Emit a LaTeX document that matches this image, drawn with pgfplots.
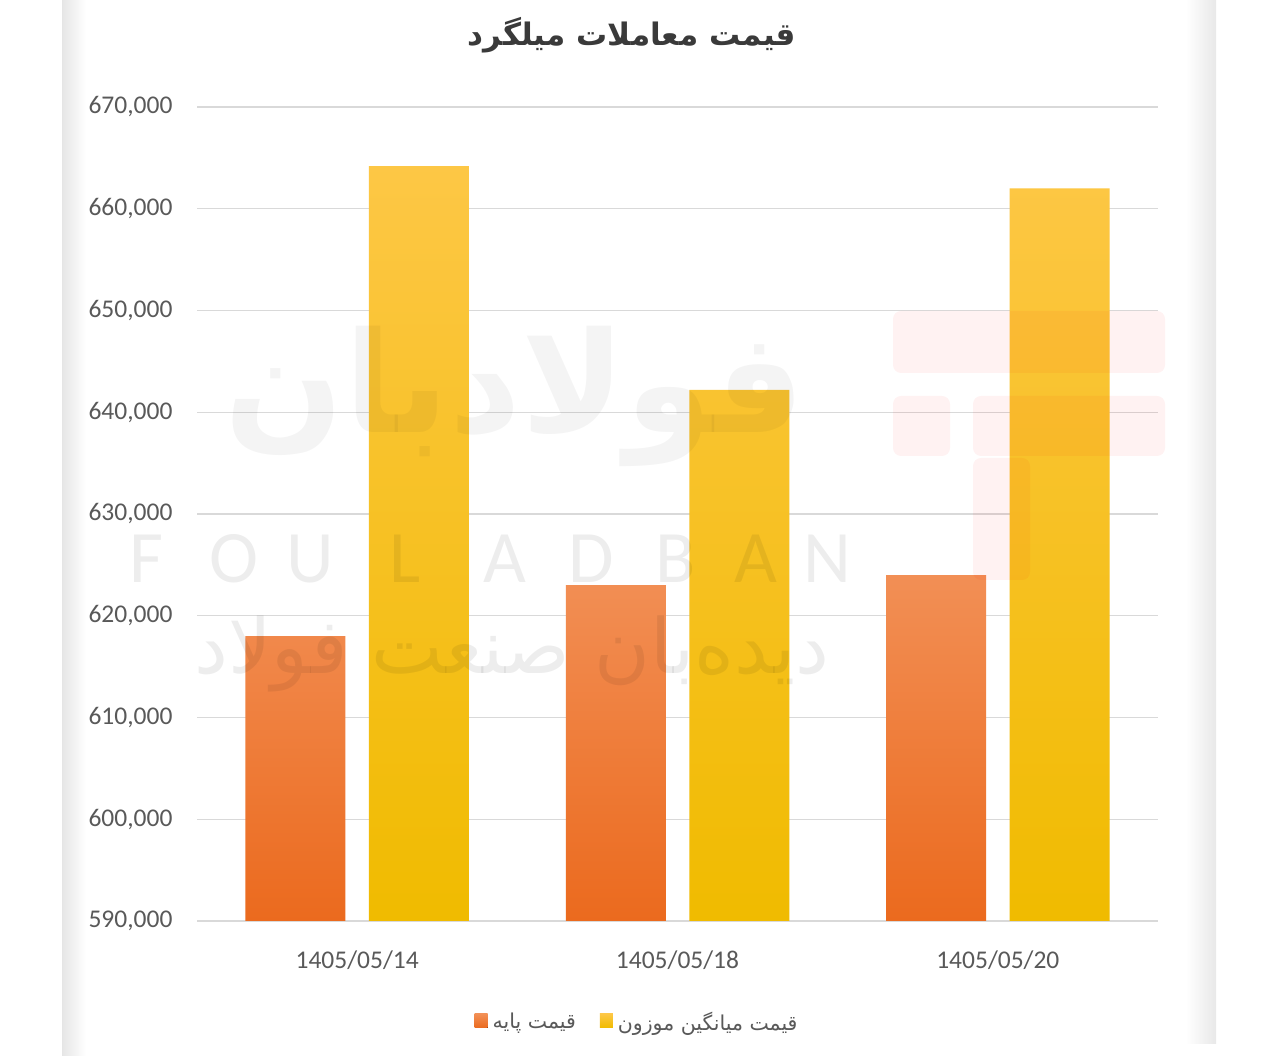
\documentclass[border=0pt]{standalone}
\usepackage{pgfplots}
\pgfplotsset{compat=1.18}
\usepackage{fontspec}
\setmainfont{Carlito}
\newfontfamily\arabicfont[Script=Arabic]{DejaVu Sans}
\TeXXeTstate=1
\definecolor{orA}{HTML}{F28F55}
\definecolor{orB}{HTML}{EB6A1E}
\definecolor{yeA}{HTML}{FDC745}
\definecolor{yeB}{HTML}{F0BB00}
\definecolor{ticktext}{HTML}{595959}
\definecolor{gridc}{HTML}{D9D9D9}
\definecolor{titlec}{HTML}{3A3A3A}
\begin{document}
\begin{tikzpicture}[x=1pt,y=1pt]
\path[fill=white] (0,0) rectangle (1280,1056);
% card edges
\shade[left color=black!10, right color=white] (62,0) rectangle (86,1056);
\shade[left color=white, right color=black!9] (1186,12) rectangle (1216,1056);
\begin{axis}[
  at={(197pt,135pt)}, anchor=south west,
  scale only axis, width=961pt, height=814pt,
  xmin=-0.5, xmax=2.5, ymin=590000, ymax=670000,
  ytick={590000,600000,610000,620000,630000,640000,650000,660000,670000},
  xtick={0,1,2},
  xticklabels={1405/05/14,1405/05/18,1405/05/20},
  scaled y ticks=false,
  /pgf/number format/.cd, fixed, 1000 sep={,}, assume math mode=true, /pgfplots/.cd,
  axis line style={draw=none},
  tick style={draw=none},
  ymajorgrids, major grid style={gridc, line width=1.1pt},
  yticklabel style={font=\fontsize{25.5}{30}\selectfont, text=ticktext, xshift=-21pt},
  xticklabel style={font=\fontsize{25.5}{30}\selectfont, text=ticktext, yshift=-26pt},
  legend style={at={(0.458,-0.124)}, anchor=center, draw=none, fill=none,
    font=\fontsize{20.5}{24}\selectfont, text=ticktext, legend columns=2,
    /tikz/every odd column/.append style={column sep=3pt},
    /tikz/every even column/.append style={column sep=22pt}},
  legend image code/.code={\fill[#1] (0pt,-6pt) rectangle (13pt,8pt);},
  bar width=100pt,
]
\addplot[ybar, bar shift=-61.75pt, draw=none, top color=orA, bottom color=orB]
  coordinates {(0,618000) (1,623000) (2,624000)};
\addlegendentry{\arabicfont\beginR قیمت پایه\endR}
\addplot[ybar, bar shift=61.75pt, draw=none, top color=yeA, bottom color=yeB]
  coordinates {(0,664200) (1,642200) (2,662000)};
\addlegendentry{\arabicfont\beginR قیمت میانگین موزون\endR}
\end{axis}
% watermark
\begin{scope}[fill opacity=0.07, text opacity=0.07]
\foreach \l/\x in {F/146,O/234,U/310,L/405,A/505,D/591,B/676,A/756,N/827}
  \node[font=\fontsize{74}{76}\selectfont, inner sep=0pt] at (\x,497) {\l};
\node[font=\arabicfont\fontsize{76}{90}\selectfont] at (512,402) {\beginR دیده‌بان صنعت فولاد\endR};
\end{scope}
\begin{scope}[fill opacity=0.045, text opacity=0.045]
\node[font=\arabicfont\bfseries\fontsize{140}{150}\selectfont] at (515,660) {\beginR فولادبان\endR};
\end{scope}
\begin{scope}[fill opacity=0.05]
\fill[red, rounded corners=8pt] (893,683) rectangle (1165,745);
\fill[red, rounded corners=8pt] (893,600) rectangle (950,660);
\fill[red, rounded corners=8pt] (973,600) rectangle (1165,660);
\fill[red, rounded corners=8pt] (973,476) rectangle (1030,598);
\end{scope}
% title
\node[font=\arabicfont\bfseries\fontsize{31}{36}\selectfont, text=titlec] at (632,1021) {\beginR قیمت معاملات میلگرد\endR};
\end{tikzpicture}
\end{document}
